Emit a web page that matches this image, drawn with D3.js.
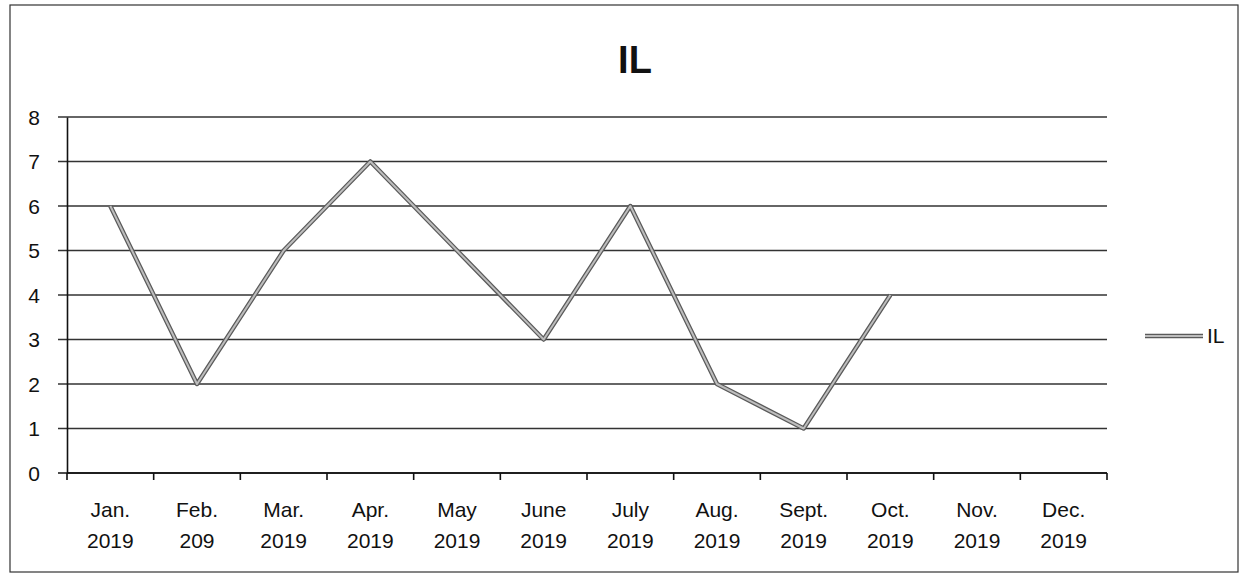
<!DOCTYPE html>
<html lang="en">
<head>
<meta charset="utf-8">
<script src="https://d3js.org/d3.v7.min.js"></script>
<style>
  body { margin: 0; background: #fff; }
  svg text { font-family: "Liberation Sans", Arial, sans-serif; fill: #111; }
</style>
</head>
<body>
<svg width="1247" height="576"></svg>
<script>
// chart data
var months = ["Jan.", "Feb.", "Mar.", "Apr.", "May", "June", "July", "Aug.", "Sept.", "Oct.", "Nov.", "Dec."];
var years  = ["2019", "209", "2019", "2019", "2019", "2019", "2019", "2019", "2019", "2019", "2019", "2019"];
var ilValues = [6, 2, 5, 7, 5, 3, 6, 2, 1, 4, null, null];
var yTicks = [0, 1, 2, 3, 4, 5, 6, 7, 8];
var seriesName = "IL";

var svg = d3.select("svg");

// outer frame
svg.append("rect")
  .attr("x", 10).attr("y", 5)
  .attr("width", 1228).attr("height", 567)
  .attr("fill", "none")
  .attr("stroke", "#333")
  .attr("stroke-width", 1.2);

// title
svg.append("text")
  .attr("x", 635).attr("y", 73)
  .attr("text-anchor", "middle")
  .style("font-size", "38px")
  .style("font-weight", "bold")
  .text(seriesName);

var x = d3.scaleBand().domain(d3.range(months.length)).range([67, 1107]);
var y = d3.scaleLinear().domain([0, 8]).range([473, 117]);

// gridlines
svg.append("g")
  .selectAll("line")
  .data(yTicks)
  .enter().append("line")
    .attr("x1", 58).attr("x2", 1107)
    .attr("y1", function(d) { return y(d); })
    .attr("y2", function(d) { return y(d); })
    .attr("stroke", function(d) { return d === 0 ? "#111" : "#333"; })
    .attr("stroke-width", 1.4);

// y axis
var yAxis = svg.append("g")
  .attr("transform", "translate(67,0)")
  .call(d3.axisLeft(y).tickValues(yTicks).tickSize(0).tickPadding(27));
yAxis.select(".domain").attr("stroke", "#111").attr("stroke-width", 1.6);
yAxis.selectAll("text").style("font-size", "21px").attr("dy", "0.35em");

// x axis with ticks on band edges
var xAxis = svg.append("g").attr("transform", "translate(0,473)");
xAxis.append("line")
  .attr("x1", 67).attr("x2", 1107)
  .attr("stroke", "#111").attr("stroke-width", 1.6);
xAxis.selectAll("line.tick")
  .data(d3.range(months.length + 1))
  .enter().append("line")
    .attr("class", "tick")
    .attr("x1", function(i) { return 67 + i * x.bandwidth(); })
    .attr("x2", function(i) { return 67 + i * x.bandwidth(); })
    .attr("y1", 0).attr("y2", 7)
    .attr("stroke", "#111").attr("stroke-width", 1.6);

var labels = xAxis.selectAll("text.lbl")
  .data(months)
  .enter().append("text")
    .attr("class", "lbl")
    .attr("text-anchor", "middle")
    .attr("x", function(d, i) { return x(i) + x.bandwidth() / 2; })
    .style("font-size", "21px");
labels.append("tspan")
  .attr("x", function(d, i) { return x(i) + x.bandwidth() / 2; })
  .attr("y", 44)
  .text(function(d) { return d; });
labels.append("tspan")
  .attr("x", function(d, i) { return x(i) + x.bandwidth() / 2; })
  .attr("y", 75)
  .text(function(d, i) { return years[i]; });

// series line
var line = d3.line()
  .defined(function(d) { return d != null; })
  .x(function(d, i) { return x(i) + x.bandwidth() / 2; })
  .y(function(d) { return y(d); });

svg.append("path")
  .datum(ilValues)
  .attr("d", line)
  .attr("fill", "none")
  .attr("stroke", "#5a5a5a")
  .attr("stroke-width", 4.5)
  .attr("stroke-linejoin", "round");
svg.append("path")
  .datum(ilValues)
  .attr("d", line)
  .attr("fill", "none")
  .attr("stroke", "#bdbdbd")
  .attr("stroke-width", 2)
  .attr("stroke-linejoin", "round");

// legend
var legend = svg.append("g").attr("transform", "translate(1145,336)");
legend.append("line").attr("x1", 0).attr("x2", 58)
  .attr("stroke", "#5a5a5a").attr("stroke-width", 4.5);
legend.append("line").attr("x1", 0).attr("x2", 58)
  .attr("stroke", "#bdbdbd").attr("stroke-width", 2);
legend.append("text")
  .attr("x", 62).attr("y", 0).attr("dy", "0.35em")
  .style("font-size", "21px")
  .text(seriesName);
</script>
</body>
</html>
